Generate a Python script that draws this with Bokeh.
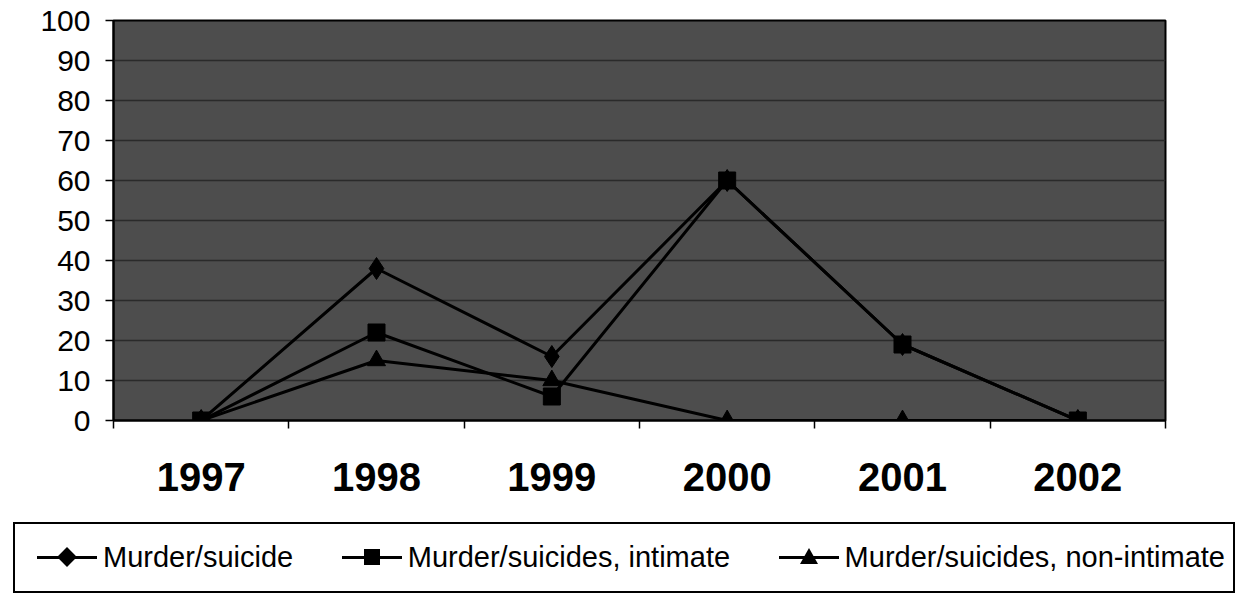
from bokeh.plotting import figure
from bokeh.layouts import column
from bokeh.models import (FactorRange, Range1d, LinearAxis, CategoricalAxis, FixedTicker,
                          ColumnDataSource, Div)
from bokeh.embed import file_html
from bokeh.resources import INLINE

years = ["1997", "1998", "1999", "2000", "2001", "2002"]
murder_suicide = [0, 38, 16, 60, 19, 0]
ms_intimate = [0, 22, 6, 60, 19, 0]
ms_non_intimate = [0, 15, 10, 0, 0, 0]
y_ticks = [0, 10, 20, 30, 40, 50, 60, 70, 80, 90, 100]
boundaries = [0, 1, 2, 3, 4, 5, 6]
series_names = ["Murder/suicide", "Murder/suicides, intimate", "Murder/suicides, non-intimate"]
series_markers = ["diamond", "square", "triangle"]

FONT = "Liberation Sans"
W = 1234

p = figure(width=W, height=513, x_range=FactorRange(*years), y_range=Range1d(0, 100),
           output_backend="svg", toolbar_location=None, x_axis_location=None,
           min_border_left=113, min_border_top=20, min_border_right=W - 1165, min_border_bottom=93)
p.background_fill_color = "#4d4d4d"
p.border_fill_color = "white"
p.outline_line_color = "black"
p.outline_line_width = 2

p.xgrid.grid_line_color = None
p.ygrid.ticker = FixedTicker(ticks=y_ticks)
p.ygrid.grid_line_color = "#2a2a2a"
p.ygrid.grid_line_width = 1.5

ya = p.yaxis[0]
ya.ticker = FixedTicker(ticks=y_ticks)
ya.axis_line_color = "black"
ya.axis_line_width = 2
ya.major_tick_out = 8
ya.major_tick_in = 0
ya.major_tick_line_width = 1.5
ya.minor_tick_line_color = None
ya.major_label_text_font = FONT
ya.major_label_text_font_size = "30px"
ya.major_label_text_color = "black"
ya.major_label_standoff = 15

# boundary ticks axis (category edges in synthetic coordinates)
tick_axis = LinearAxis(ticker=FixedTicker(ticks=boundaries))
tick_axis.axis_line_color = "black"
tick_axis.axis_line_width = 2
tick_axis.major_tick_out = 8
tick_axis.major_tick_in = 0
tick_axis.major_tick_line_width = 1.5
tick_axis.minor_tick_line_color = None
tick_axis.major_label_text_font_size = "1px"
tick_axis.major_label_text_alpha = 0
tick_axis.major_label_standoff = 0
p.add_layout(tick_axis, "below")

label_axis = CategoricalAxis()
label_axis.axis_line_color = None
label_axis.major_tick_line_color = None
label_axis.major_label_text_font = FONT
label_axis.major_label_text_font_style = "bold"
label_axis.major_label_text_font_size = "40px"
label_axis.major_label_text_color = "black"
label_axis.major_label_standoff = 28
p.add_layout(label_axis, "below")

src = ColumnDataSource(dict(year=years, a=murder_suicide, b=ms_intimate, c=ms_non_intimate))

p.line("year", "a", source=src, line_color="black", line_width=3)
p.scatter("year", "a", source=src, marker="diamond", size=22, fill_color="black", line_color="black")
p.line("year", "b", source=src, line_color="black", line_width=3)
p.scatter("year", "b", source=src, marker="square", size=17, fill_color="black", line_color="black")
p.line("year", "c", source=src, line_color="black", line_width=3)
p.scatter("year", "c", source=src, marker="triangle", size=18, fill_color="black", line_color="black")

# legend box below the x labels (HTML, real text)
def sample(shape):
    if shape == "diamond":
        mk = ('<span style="position:absolute;left:23px;top:7px;width:14px;height:14px;'
              'background:black;transform:rotate(45deg);"></span>')
    elif shape == "square":
        mk = ('<span style="position:absolute;left:22px;top:6px;width:16px;height:16px;'
              'background:black;"></span>')
    else:
        mk = ('<span style="position:absolute;left:21px;top:5px;width:0;height:0;'
              'border-left:9px solid transparent;border-right:9px solid transparent;'
              'border-bottom:16px solid black;"></span>')
    return ('<span style="position:relative;display:inline-block;width:60px;height:28px;">'
            '<span style="position:absolute;left:0;top:13px;width:60px;height:3px;background:black;"></span>'
            + mk + '</span>')

items_html = "".join(
    '<span style="display:inline-flex;align-items:center;">' + sample(mk)
    + '<span style="margin-left:6px;">' + name + '</span></span>'
    for name, mk in zip(series_names, series_markers))

legend_html = ('<div style="box-sizing:border-box;width:1222px;height:71px;margin-left:8px;'
               'margin-top:4px;border:2px solid black;background:white;display:flex;'
               'align-items:center;justify-content:space-between;padding:0 8px 0 22px;'
               "font-family:'Liberation Sans',Arial,sans-serif;font-size:29px;color:black;"
               'white-space:nowrap;">' + items_html + '</div>')

leg = Div(text=legend_html, width=W, height=80)

open("out.html", "w").write(file_html(column(p, leg), INLINE))
